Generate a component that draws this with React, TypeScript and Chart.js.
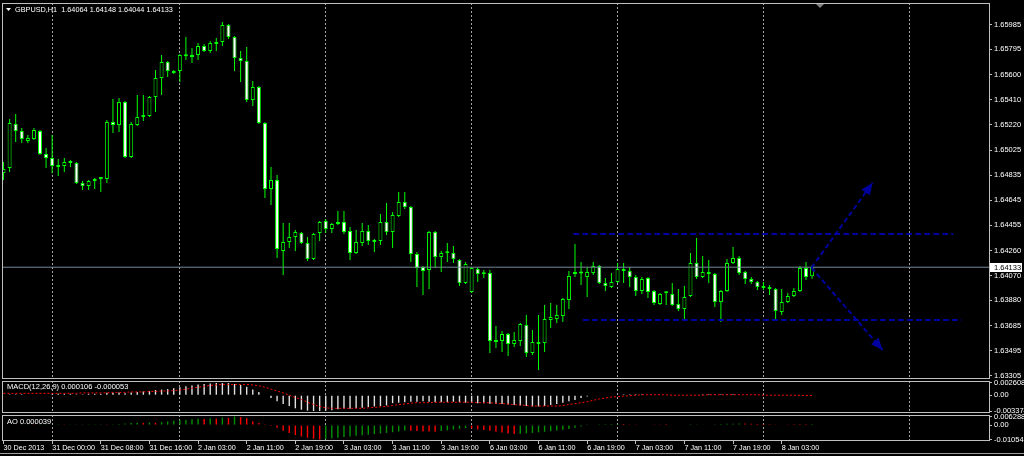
import React, { useEffect, useRef } from 'react';
import { Chart, registerables } from 'chart.js';

Chart.register(...registerables);

// ---------------- DATA ----------------
const SYMBOL = 'GBPUSD,H1';

const OPEN = [
  1.64852, 1.64890, 1.65226, 1.65172, 1.65096, 1.65111, 1.65172, 1.64997, 1.64966, 1.64898,
  1.64905, 1.64943, 1.64928, 1.64775, 1.64753, 1.64791, 1.64806, 1.64806, 1.65241, 1.65218,
  1.65394, 1.64974, 1.65218, 1.65279, 1.65287, 1.65432, 1.65577, 1.65699, 1.65630, 1.65630,
  1.65745, 1.65737, 1.65752, 1.65821, 1.65783, 1.65836, 1.65851, 1.65981, 1.65890, 1.65729,
  1.65706, 1.65409, 1.65508, 1.65233, 1.64730, 1.64798, 1.64257, 1.64325, 1.64364, 1.64394,
  1.64318, 1.64196, 1.64394, 1.64485, 1.64424, 1.64463, 1.64478, 1.64409, 1.64241, 1.64318,
  1.64409, 1.64341, 1.64333, 1.64478, 1.64402, 1.64524, 1.64630, 1.64592, 1.64234, 1.64134,
  1.64112, 1.64402, 1.64211, 1.64241, 1.64241, 1.64188, 1.64012, 1.63944, 1.64119, 1.64081,
  1.64089, 1.63577, 1.63570, 1.63623, 1.63547, 1.63570, 1.63692, 1.63478, 1.63547, 1.63555,
  1.63730, 1.63738, 1.63761, 1.63883, 1.64081, 1.64085, 1.64058, 1.64089, 1.64142, 1.64012,
  1.63982, 1.64020, 1.64119, 1.64104, 1.64058, 1.63951, 1.64051, 1.63951, 1.63852, 1.63936,
  1.63928, 1.63852, 1.63814, 1.63913, 1.64165, 1.64058, 1.64096, 1.64081, 1.63867, 1.63951,
  1.64165, 1.64203, 1.64096, 1.64043, 1.64020, 1.63990, 1.63974, 1.63967, 1.63791, 1.63867,
  1.63913, 1.63951, 1.64127, 1.64064,
];

const HIGH = [
  1.64936, 1.65264, 1.65302, 1.65195, 1.65142, 1.65195, 1.65180, 1.65043, 1.65142, 1.64959,
  1.64966, 1.64951, 1.64936, 1.64791, 1.64798, 1.64814, 1.64814, 1.65256, 1.65416, 1.65424,
  1.65401, 1.65241, 1.65447, 1.65447, 1.65439, 1.65638, 1.65752, 1.65706, 1.65638, 1.65760,
  1.65890, 1.65806, 1.65844, 1.65836, 1.65859, 1.65882, 1.66004, 1.65989, 1.65897, 1.65783,
  1.65813, 1.65554, 1.65516, 1.65241, 1.64898, 1.64837, 1.64470, 1.64470, 1.64417, 1.64402,
  1.64364, 1.64394, 1.64485, 1.64501, 1.64470, 1.64562, 1.64562, 1.64440, 1.64417, 1.64470,
  1.64455, 1.64348, 1.64539, 1.64623, 1.64554, 1.64707, 1.64707, 1.64600, 1.64249, 1.64142,
  1.64409, 1.64409, 1.64257, 1.64318, 1.64295, 1.64196, 1.64173, 1.64134, 1.64134, 1.64112,
  1.64112, 1.63684, 1.63646, 1.63631, 1.63638, 1.63707, 1.63768, 1.63654, 1.63768, 1.63845,
  1.63860, 1.63845, 1.63898, 1.64104, 1.64310, 1.64173, 1.64134, 1.64173, 1.64150, 1.64051,
  1.64089, 1.64165, 1.64165, 1.64134, 1.64073, 1.64058, 1.64058, 1.63959, 1.63936, 1.63951,
  1.64012, 1.63967, 1.63990, 1.64241, 1.64356, 1.64218, 1.64188, 1.64089, 1.63959, 1.64196,
  1.64287, 1.64218, 1.64104, 1.64058, 1.64028, 1.64020, 1.63997, 1.63974, 1.63967, 1.63936,
  1.63974, 1.64142, 1.64173, 1.64148,
];

const LOW = [
  1.64798, 1.64860, 1.65088, 1.65081, 1.65081, 1.65104, 1.64989, 1.64890, 1.64852, 1.64829,
  1.64860, 1.64898, 1.64768, 1.64722, 1.64722, 1.64730, 1.64707, 1.64775, 1.65157, 1.65165,
  1.64966, 1.64966, 1.65210, 1.65249, 1.65279, 1.65317, 1.65447, 1.65584, 1.65607, 1.65546,
  1.65714, 1.65691, 1.65714, 1.65775, 1.65768, 1.65783, 1.65821, 1.65874, 1.65630, 1.65546,
  1.65394, 1.65363, 1.65226, 1.64661, 1.64608, 1.64203, 1.64073, 1.64280, 1.64257, 1.64310,
  1.64180, 1.64188, 1.64333, 1.64394, 1.64394, 1.64455, 1.64386, 1.64188, 1.64234, 1.64295,
  1.64302, 1.64249, 1.64302, 1.64379, 1.64280, 1.64516, 1.64577, 1.64173, 1.63982, 1.63921,
  1.63967, 1.64127, 1.64096, 1.64173, 1.64165, 1.63990, 1.64005, 1.63936, 1.64020, 1.64051,
  1.63478, 1.63516, 1.63486, 1.63455, 1.63524, 1.63532, 1.63448, 1.63463, 1.63348, 1.63486,
  1.63669, 1.63707, 1.63715, 1.63814, 1.64058, 1.63997, 1.63906, 1.64073, 1.64005, 1.63951,
  1.63974, 1.64012, 1.64012, 1.63982, 1.63913, 1.63928, 1.63898, 1.63845, 1.63845, 1.63845,
  1.63837, 1.63799, 1.63738, 1.63906, 1.64043, 1.64051, 1.64012, 1.63829, 1.63715, 1.63944,
  1.64157, 1.64073, 1.64005, 1.64005, 1.63959, 1.63959, 1.63921, 1.63738, 1.63768, 1.63860,
  1.63906, 1.63944, 1.64035, 1.64044,
];

const CLOSE = [
  1.64882, 1.65233, 1.65172, 1.65111, 1.65119, 1.65180, 1.64997, 1.64966, 1.64905, 1.64905,
  1.64936, 1.64928, 1.64775, 1.64753, 1.64791, 1.64806, 1.64808, 1.65241, 1.65218, 1.65394,
  1.64974, 1.65226, 1.65279, 1.65294, 1.65432, 1.65577, 1.65699, 1.65630, 1.65615, 1.65752,
  1.65743, 1.65752, 1.65821, 1.65783, 1.65844, 1.65851, 1.65981, 1.65890, 1.65729, 1.65706,
  1.65409, 1.65508, 1.65233, 1.64730, 1.64798, 1.64272, 1.64325, 1.64364, 1.64402, 1.64318,
  1.64196, 1.64386, 1.64478, 1.64424, 1.64463, 1.64470, 1.64402, 1.64241, 1.64325, 1.64409,
  1.64333, 1.64325, 1.64478, 1.64402, 1.64531, 1.64630, 1.64592, 1.64234, 1.64127, 1.64104,
  1.64402, 1.64211, 1.64241, 1.64239, 1.64196, 1.64012, 1.64157, 1.64127, 1.64081, 1.64079,
  1.63570, 1.63562, 1.63623, 1.63547, 1.63577, 1.63700, 1.63478, 1.63562, 1.63555, 1.63738,
  1.63753, 1.63768, 1.63890, 1.64066, 1.64089, 1.64092, 1.64096, 1.64142, 1.64012, 1.63990,
  1.64020, 1.64119, 1.64104, 1.64058, 1.63951, 1.64043, 1.63944, 1.63860, 1.63928, 1.63934,
  1.63845, 1.63814, 1.63906, 1.64165, 1.64058, 1.64096, 1.64081, 1.63867, 1.63951, 1.64165,
  1.64203, 1.64089, 1.64043, 1.64020, 1.63982, 1.63974, 1.63967, 1.63799, 1.63867, 1.63913,
  1.63951, 1.64127, 1.64058, 1.64133,
];

const MACD_MAIN = [
  0.0001, 0.0002, 0.0002, 0.0002, 0.0001, 0.0001, 0.0001, 0.0001, 0.0002,
  0.0003, 0.0003, 0.0003, 0.0002, 0.0002, 0.0003, 0.0003, 0.0003, 0.0005, 0.0005, 0.0006, 0.0004,
  0.0006, 0.0007, 0.0008, 0.0009, 0.0011, 0.0012, 0.0013,
  0.0015, 0.0017, 0.0019, 0.0021,
  0.0023, 0.0024, 0.0025, 0.002608, 0.0026, 0.0026,
  0.0024, 0.0022, 0.0018,
  0.0012, 0.0007, 0.0001,
  -0.0006, -0.0013, -0.0019, -0.0023, -0.0028, -0.0031, -0.0033, -0.003374, -0.00335, -0.0033, -0.0032, -0.0030,
  -0.0029, -0.0029, -0.0028, -0.0027, -0.0025, -0.0024, -0.0023, -0.0022,
  -0.0017, -0.0016, -0.0015, -0.0014, -0.0014, -0.0013, -0.0014, -0.0015, -0.0015, -0.0015, -0.0014, -0.0015, -0.0016, -0.0016,
  -0.0017, -0.0017, -0.0018, -0.0019, -0.0019, -0.0020, -0.0021, -0.0022, -0.0023, -0.0024, -0.0024, -0.0023, -0.0021, -0.0019,
  -0.0016, -0.0013, -0.0010, -0.0006, -0.0003, -0.0001, 0.0000,
  0.0001, 0.0001, 0.0001, 0.0002, 0.0002, 0.0002, 0.0002, 0.0001, 0.0001, 0.0001,
  0.0000, 0.0000, 0.0000, 0.0000, 0.0001, 0.0001, 0.0002, 0.0002, 0.0002, 0.0002,
  0.0002, 0.0002, 0.0001, 0.0001, 0.0001, 0.0001, 0.0000, 0.0000, -0.0001, 0.0000,
  0.0000, 0.0001, 0.0001, 0.0001, 0.000106,
];

const MACD_SIGNAL = [
  0.0004, 0.0004, 0.0004, 0.0004, 0.0004, 0.0004, 0.0004, 0.0004, 0.0004, 0.0004,
  0.0004, 0.0004, 0.0004, 0.0005, 0.0005, 0.0005, 0.0005, 0.0005, 0.0006, 0.0006,
  0.0006, 0.0007, 0.0007, 0.0007, 0.0008, 0.0008, 0.0009, 0.0009, 0.0010, 0.0011,
  0.0013, 0.0015, 0.0017, 0.0019, 0.0021, 0.0022, 0.0023, 0.0023, 0.0023, 0.0023,
  0.0023, 0.0022, 0.0020, 0.0017, 0.0013, 0.0009, 0.0005, 0.0000, -0.0005, -0.0009,
  -0.0015, -0.0020, -0.0024, -0.0027, -0.0028, -0.0028, -0.0028, -0.0028, -0.0028, -0.0028,
  -0.0027, -0.0026, -0.0025, -0.0024, -0.0022, -0.0020, -0.0019, -0.0017, -0.0016, -0.0016,
  -0.0016, -0.0015, -0.0015, -0.0015, -0.0015, -0.0015, -0.0015, -0.0015, -0.0016, -0.0016,
  -0.0016, -0.0017, -0.0018, -0.0019, -0.0020, -0.0021, -0.0022, -0.0023, -0.0023, -0.0023,
  -0.0023, -0.0023, -0.0022, -0.0020, -0.0018, -0.0016, -0.0014, -0.0011, -0.0008, -0.0006,
  -0.0004, -0.0003, -0.0002, -0.0001, 0.0000, 0.0001, 0.0001, 0.0001, 0.0001, 0.0001,
  0.0000, 0.0000, 0.0000, 0.0000, 0.0000, 0.0000, 0.0001, 0.0001, 0.0001, 0.0001,
  0.0001, 0.0001, 0.0001, 0.0001, 0.0001, 0.0000, 0.0000, 0.0000, 0.0000, 0.0000,
  0.0000, -0.00003, -0.00005, -0.000053,
];

const AO_VALUES = [
  0.0004, 0.0004, 0.0003, 0.0003, 0.0003, 0.0002, 0.0002, 0.0003, 0.0003,
  0.0003, 0.0002, 0.0002, 0.0002, 0.0002, 0.0002, 0.0003, 0.0003, 0.0002, 0.0003,
  0.0008, 0.0012, 0.0015, 0.0018, 0.0016, 0.0019, 0.0017, 0.0022,
  0.0027, 0.0031, 0.0035, 0.0038,
  0.0042, 0.0046, 0.0044, 0.0050, 0.0047, 0.0055, 0.0052, 0.006288, 0.0058, 0.0050,
  0.0028, 0.0015, 0.0002,
  -0.0006, -0.0020, -0.0042, -0.0058, -0.0073, -0.0084, -0.0093, -0.0100, -0.010541,
  -0.0101, -0.0097, -0.0092, -0.0088, -0.0083, -0.0078, -0.0074, -0.0070, -0.0066, -0.0061, -0.0057, -0.0052, -0.0047,
  -0.0040, -0.0042, -0.0044, -0.0046, -0.0047, -0.0049,
  -0.0043, -0.0038, -0.0032, -0.0027, -0.0022,
  -0.0024, -0.0030, -0.0036, -0.0042, -0.0048, -0.0055, -0.0062, -0.0066,
  -0.0063, -0.0060, -0.0057, -0.0053, -0.0049, -0.0045, -0.0040, -0.0034, -0.0028, -0.0020, -0.0010,
  0.0002, 0.0004, 0.0006, 0.0007, 0.0008, 0.0009,
  0.0008, 0.0007, 0.0006, 0.0005, 0.0004, 0.0003, 0.0002, 0.0001, 0.0000,
  0.0000, 0.0000, 0.0001, 0.0002, 0.0003, 0.0004, 0.0006,
  0.0008, 0.0009, 0.0010, 0.0012, 0.0011,
  0.0010, 0.0009, 0.0008, 0.0007, 0.0005, 0.0003, 0.0002,
  0.0001, 0.00005, 0.00003, 0.000039,
];

const PRICE_TICKS = [
  1.65985, 1.65795, 1.656, 1.6541, 1.6522, 1.65025, 1.64835, 1.64645,
  1.64455, 1.6426, 1.6407, 1.6388, 1.63685, 1.63495, 1.63305,
];
const MACD_TICKS = [0.002608, 0, -0.003374];
const AO_TICKS = [0.006288, 0, -0.010541];

const DAY_START_BARS = [8, 29, 53, 77, 101, 125, 149];
const TIME_LABEL_BARS = [0, 8, 16, 24, 32, 40, 48, 56, 64, 72, 80, 88, 96, 104, 112, 120, 128];
const TIME_LABELS = [
  '30 Dec 2013', '31 Dec 00:00', '31 Dec 08:00', '31 Dec 16:00', '2 Jan 03:00', '2 Jan 11:00',
  '2 Jan 19:00', '3 Jan 03:00', '3 Jan 11:00', '3 Jan 19:00', '6 Jan 03:00', '6 Jan 11:00',
  '6 Jan 19:00', '7 Jan 03:00', '7 Jan 11:00', '7 Jan 19:00', '8 Jan 03:00',
];

const CHANNEL_UPPER = [{ x: 93.7, y: 1.64386 }, { x: 156.2, y: 1.64386 }];
const CHANNEL_LOWER = [{ x: 95.3, y: 1.6373 }, { x: 157.6, y: 1.6373 }];
const ARROW_UP = [{ x: 132.9, y: 1.64129 }, { x: 142.96, y: 1.64778 }];
const ARROW_DOWN = [{ x: 132.9, y: 1.64129 }, { x: 144.6, y: 1.63501 }];
const SHIFT_MARK_BAR = 134.3;

// ---------------- STYLE / SCALES ----------------
const FONT = '"Liberation Sans", Arial, sans-serif';
const TEXT_COLOR = '#ffffff';
const FRAME_COLOR = '#c0c0c0';
const GRID_COLOR = '#a8a8a8';
const CANDLE_GREEN = '#00ff00';
const NAVY = '#0000a0';
const BID_COLOR = '#778899';

const X_MIN = -0.25;
const X_MAX = 162.1;
const PRICE_MIN = 1.6328;
const PRICE_MAX = 1.66149;
const MACD_MIN = -0.003801;
const MACD_MAX = 0.003035;
const AO_MIN = -0.011639;
const AO_MAX = 0.007386;

const LAST = CLOSE.length - 1;

function gridXScale(): any {
  return {
    type: 'linear',
    min: X_MIN,
    max: X_MAX,
    offset: false,
    grid: { offset: false, color: GRID_COLOR, lineWidth: 1, drawTicks: false, tickLength: 0 },
    border: { display: false, dash: [2, 2] },
    ticks: { display: false },
    afterBuildTicks: (s: any) => {
      s.ticks = DAY_START_BARS.map((v) => ({ value: v }));
    },
    afterFit: (s: any) => {
      s.height = 0;
      s.paddingLeft = 0;
      s.paddingRight = 0;
    },
  };
}

function valueAxis(min: number, max: number, ticks: number[], fmt: (v: number) => string): any {
  return {
    type: 'linear',
    position: 'right',
    min,
    max,
    beginAtZero: false,
    grid: { drawOnChartArea: false, drawTicks: true, tickLength: 3, color: FRAME_COLOR },
    border: { display: false },
    ticks: {
      autoSkip: false,
      padding: 2,
      color: TEXT_COLOR,
      font: { family: FONT, size: 7.5 },
      callback: (v: any) => fmt(Number(v)),
    },
    afterBuildTicks: (s: any) => {
      s.ticks = ticks.map((v) => ({ value: v }));
    },
    afterFit: (s: any) => {
      s.width = 35;
      s.paddingTop = 0;
      s.paddingBottom = 0;
    },
  };
}

const fmtIndicator = (v: number) => (v === 0 ? '0.00' : v.toFixed(6));

const framePlugin = {
  id: 'frame',
  afterDraw(chart: any) {
    const { ctx, chartArea: a } = chart;
    ctx.save();
    ctx.strokeStyle = FRAME_COLOR;
    ctx.lineWidth = 1;
    ctx.setLineDash([]);
    ctx.strokeRect(
      Math.round(a.left) + 0.5,
      Math.round(a.top) + 0.5,
      Math.round(a.right - a.left),
      Math.round(a.bottom - a.top) - 1,
    );
    ctx.restore();
  },
};

function textPlugin(id: string, text: string, dx: number, dy: number): any {
  return {
    id,
    afterDraw(chart: any) {
      const { ctx, chartArea: a } = chart;
      ctx.save();
      ctx.fillStyle = TEXT_COLOR;
      ctx.font = `7.5px ${FONT}`;
      ctx.textBaseline = 'middle';
      ctx.textAlign = 'left';
      ctx.fillText(text, a.left + dx, a.top + dy);
      ctx.restore();
    },
  };
}

function drawArrowHead(ctx: CanvasRenderingContext2D, x0: number, y0: number, x1: number, y1: number) {
  const dx = x1 - x0;
  const dy = y1 - y0;
  const len = Math.hypot(dx, dy) || 1;
  const ux = dx / len;
  const uy = dy / len;
  const L = 12;
  const W = 5;
  const bx = x1 - ux * L;
  const by = y1 - uy * L;
  ctx.beginPath();
  ctx.moveTo(x1, y1);
  ctx.lineTo(bx - uy * W, by + ux * W);
  ctx.lineTo(bx + uy * W, by - ux * W);
  ctx.closePath();
  ctx.fill();
}

const mainOverlayPlugin = {
  id: 'mainOverlay',
  afterDraw(chart: any) {
    const { ctx, chartArea: a, scales } = chart;
    const xs = scales.x;
    const ys = scales.y;
    ctx.save();
    ctx.fillStyle = NAVY;
    [ARROW_UP, ARROW_DOWN].forEach((arr) => {
      const x0 = xs.getPixelForValue(arr[0].x);
      const y0 = ys.getPixelForValue(arr[0].y);
      const x1 = xs.getPixelForValue(arr[1].x);
      const y1 = ys.getPixelForValue(arr[1].y);
      drawArrowHead(ctx, x0, y0, x1, y1);
    });
    ctx.fillStyle = TEXT_COLOR;
    ctx.beginPath();
    ctx.moveTo(a.left + 4, a.top + 5);
    ctx.lineTo(a.left + 9, a.top + 5);
    ctx.lineTo(a.left + 6.5, a.top + 8);
    ctx.closePath();
    ctx.fill();
    ctx.font = `7.3px ${FONT}`;
    ctx.textBaseline = 'middle';
    ctx.textAlign = 'left';
    const header = `${SYMBOL}  ${OPEN[LAST].toFixed(5)} ${HIGH[LAST].toFixed(5)} ${LOW[LAST].toFixed(5)} ${CLOSE[LAST].toFixed(5)}`;
    ctx.fillText(header, a.left + 13, a.top + 6.5);
    const sx = xs.getPixelForValue(SHIFT_MARK_BAR);
    ctx.fillStyle = '#808080';
    ctx.beginPath();
    ctx.moveTo(sx - 4, a.top + 1);
    ctx.lineTo(sx + 4, a.top + 1);
    ctx.lineTo(sx, a.top + 5);
    ctx.closePath();
    ctx.fill();
    const py = Math.round(ys.getPixelForValue(CLOSE[LAST]));
    const bx = Math.round(a.right) + 1;
    ctx.fillStyle = '#ffffff';
    ctx.fillRect(bx, py - 4, 32, 9);
    ctx.fillStyle = '#000000';
    ctx.font = `7.5px ${FONT}`;
    ctx.fillText(CLOSE[LAST].toFixed(5), bx + 4, py + 0.5);
    ctx.restore();
  },
};

const baseOptions = (padding: any) => ({
  responsive: false,
  maintainAspectRatio: false,
  animation: false,
  events: [],
  layout: { padding },
  plugins: { legend: { display: false }, tooltip: { enabled: false }, title: { display: false } },
});

function mainConfig(): any {
  return {
    type: 'bar',
    data: {
      datasets: [
        {
          type: 'bar',
          order: 7,
          data: HIGH.map((h, i) => ({ x: i, y: [LOW[i], h] })),
          backgroundColor: CANDLE_GREEN,
          borderWidth: 0,
          maxBarThickness: 1,
          grouped: false,
          inflateAmount: 0,
        },
        {
          type: 'bar',
          order: 6,
          data: CLOSE.map((c, i) => ({ x: i, y: [OPEN[i], c] })),
          backgroundColor: CLOSE.map((c, i) => (c < OPEN[i] ? '#ffffff' : '#000000')),
          borderColor: CANDLE_GREEN,
          borderWidth: 1,
          borderSkipped: false,
          maxBarThickness: 4,
          minBarLength: 2,
          grouped: false,
          inflateAmount: 0,
        },
        {
          type: 'line',
          order: 5,
          data: [{ x: X_MIN, y: CLOSE[LAST] }, { x: X_MAX, y: CLOSE[LAST] }],
          borderColor: BID_COLOR,
          borderWidth: 1,
          pointRadius: 0,
        },
        {
          type: 'line',
          order: 4,
          data: CHANNEL_UPPER,
          borderColor: NAVY,
          borderWidth: 2,
          borderDash: [6, 3],
          pointRadius: 0,
        },
        {
          type: 'line',
          order: 3,
          data: CHANNEL_LOWER,
          borderColor: NAVY,
          borderWidth: 2,
          borderDash: [6, 3],
          pointRadius: 0,
        },
        {
          type: 'line',
          order: 2,
          data: ARROW_UP,
          borderColor: NAVY,
          borderWidth: 2,
          borderDash: [5, 3],
          pointRadius: 0,
        },
        {
          type: 'line',
          order: 1,
          data: ARROW_DOWN,
          borderColor: NAVY,
          borderWidth: 2,
          borderDash: [5, 3],
          pointRadius: 0,
        },
      ],
    },
    options: {
      ...baseOptions({ left: 2, right: 0, top: 3, bottom: 5 }),
      scales: {
        x: gridXScale(),
        y: valueAxis(PRICE_MIN, PRICE_MAX, PRICE_TICKS, (v) => v.toFixed(5)),
      },
    },
    plugins: [framePlugin, mainOverlayPlugin],
  };
}

function macdConfig(): any {
  return {
    type: 'bar',
    data: {
      datasets: [
        {
          type: 'bar',
          order: 2,
          data: MACD_MAIN.map((v, i) => ({ x: i, y: v })),
          backgroundColor: '#e0e0e0',
          borderWidth: 0,
          maxBarThickness: 1.4,
          grouped: false,
          inflateAmount: 0,
        },
        {
          type: 'line',
          order: 1,
          data: MACD_SIGNAL.map((v, i) => ({ x: i, y: v })),
          borderColor: '#ff0000',
          borderWidth: 1,
          borderDash: [2, 2],
          pointRadius: 0,
          tension: 0,
        },
      ],
    },
    options: {
      ...baseOptions({ left: 2, right: 0, top: 5, bottom: 5 }),
      scales: {
        x: gridXScale(),
        y: valueAxis(MACD_MIN, MACD_MAX, MACD_TICKS, fmtIndicator),
      },
    },
    plugins: [
      framePlugin,
      textPlugin(
        'macdLabel',
        `MACD(12,26,9) ${MACD_MAIN[LAST].toFixed(6)} ${MACD_SIGNAL[LAST].toFixed(6)}`,
        5,
        6,
      ),
    ],
  };
}

function aoConfig(): any {
  const colors = AO_VALUES.map((v, i) => (i === 0 || v >= AO_VALUES[i - 1] ? '#009000' : '#ff0000'));
  return {
    type: 'bar',
    data: {
      datasets: [
        {
          type: 'bar',
          data: AO_VALUES.map((v, i) => ({ x: i, y: v })),
          backgroundColor: colors,
          borderWidth: 0,
          maxBarThickness: 1.4,
          grouped: false,
          inflateAmount: 0,
        },
      ],
    },
    options: {
      ...baseOptions({ left: 2, right: 0, top: 5, bottom: 0 }),
      scales: {
        x: gridXScale(),
        xl: {
          type: 'linear',
          position: 'bottom',
          min: X_MIN,
          max: X_MAX,
          offset: false,
          grid: { offset: false, drawOnChartArea: false, drawTicks: true, tickLength: 3, color: FRAME_COLOR },
          border: { display: false },
          ticks: {
            autoSkip: false,
            maxRotation: 0,
            minRotation: 0,
            align: 'start',
            padding: 0,
            color: TEXT_COLOR,
            font: { family: FONT, size: 7.2 },
            callback: (_v: any, i: number) => TIME_LABELS[i],
          },
          afterBuildTicks: (s: any) => {
            s.ticks = TIME_LABEL_BARS.map((v) => ({ value: v }));
          },
          afterFit: (s: any) => {
            s.height = 15;
            s.paddingLeft = 0;
            s.paddingRight = 0;
          },
        },
        y: valueAxis(AO_MIN, AO_MAX, AO_TICKS, fmtIndicator),
      },
    },
    plugins: [framePlugin, textPlugin('aoLabel', `AO ${AO_VALUES[LAST].toFixed(6)}`, 5, 7)],
  };
}

export default function App() {
  const mainRef = useRef<HTMLCanvasElement>(null);
  const macdRef = useRef<HTMLCanvasElement>(null);
  const aoRef = useRef<HTMLCanvasElement>(null);

  useEffect(() => {
    Chart.defaults.font.family = FONT;
    const charts = [
      new Chart(mainRef.current as HTMLCanvasElement, mainConfig()),
      new Chart(macdRef.current as HTMLCanvasElement, macdConfig()),
      new Chart(aoRef.current as HTMLCanvasElement, aoConfig()),
    ];
    return () => charts.forEach((c) => c.destroy());
  }, []);

  return (
    <div
      style={{
        position: 'fixed',
        left: 0,
        top: 0,
        width: 1024,
        height: 456,
        background: '#000000',
        overflow: 'hidden',
      }}
    >
      <canvas ref={mainRef} width={1024} height={384} style={{ position: 'absolute', left: 0, top: 0 }} />
      <canvas ref={macdRef} width={1024} height={42} style={{ position: 'absolute', left: 0, top: 376 }} />
      <canvas ref={aoRef} width={1024} height={46} style={{ position: 'absolute', left: 0, top: 410 }} />
      <div style={{ position: 'absolute', left: 0, top: 453, width: 1024, height: 1, background: '#a0a0a0' }} />
    </div>
  );
}
